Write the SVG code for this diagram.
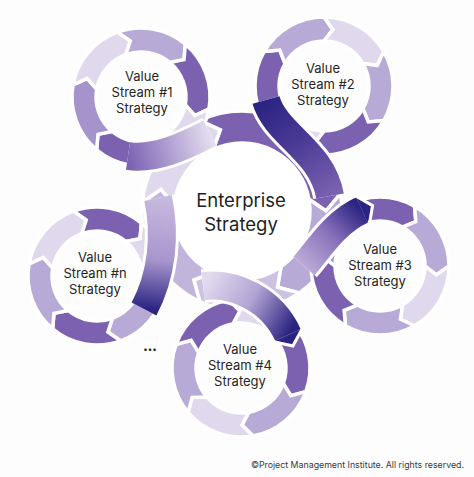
<svg xmlns="http://www.w3.org/2000/svg" xmlns:xlink="http://www.w3.org/1999/xlink" width="474" height="477" viewBox="0 0 474 477">
<style>
.seg{stroke:#fff;stroke-width:3.5;stroke-linejoin:miter}
.d{fill:#7b61b0}.l{fill:#b8aad6}.v{fill:#e0d9ee}.m{fill:#a593cc}
.cs{stroke:#fff;stroke-width:3.5}
.lbl{font-family:Inter,"Noto Sans",sans-serif;font-size:13px;fill:#262626;text-anchor:middle}
.big{font-family:Inter,"Noto Sans",sans-serif;font-size:18.5px;fill:#1e1e1e;text-anchor:middle}
.rw{fill:none;stroke:#fff;stroke-width:34}
.rb{fill:none;stroke-width:28}
.hd{fill:#2b2382}
.he{fill:none;stroke:#fff;stroke-width:3}
</style>
<defs>
<path id="s" class="seg" d="M69,0 A69,69 0 0 1 34.5,59.756 L20.427,53.214 L22.5,38.971 A45,45 0 0 0 45,0 L56.298,8.917 Z"/>
<linearGradient id="g1" gradientUnits="userSpaceOnUse" x1="128" y1="156" x2="210" y2="133"><stop offset="0" stop-color="#7d63b3"/><stop offset="1" stop-color="#e4def0"/></linearGradient>
<linearGradient id="g2" gradientUnits="userSpaceOnUse" x1="266" y1="100" x2="330" y2="196"><stop offset="0" stop-color="#2b2382"/><stop offset="0.45" stop-color="#4a3a95"/><stop offset="1" stop-color="#7b61b0"/></linearGradient>
<linearGradient id="g3" gradientUnits="userSpaceOnUse" x1="304" y1="266" x2="362" y2="210"><stop offset="0" stop-color="#b9abd7"/><stop offset="0.5" stop-color="#8a72bb"/><stop offset="1" stop-color="#2b2382"/></linearGradient>
<linearGradient id="g4" gradientUnits="userSpaceOnUse" x1="203" y1="286" x2="288" y2="335"><stop offset="0" stop-color="#e1dbee"/><stop offset="0.5" stop-color="#b3a4d3"/><stop offset="1" stop-color="#2b2382"/></linearGradient>
<linearGradient id="g5" gradientUnits="userSpaceOnUse" x1="144" y1="309" x2="158" y2="198"><stop offset="0" stop-color="#2b2382"/><stop offset="0.45" stop-color="#a796cd"/><stop offset="1" stop-color="#c6b9de"/></linearGradient>
</defs>
<rect width="474" height="477" fill="#fdfdfd"/>
<g id="enterprise">
<path class="cs" fill="#7b61b0" d="M199.74,120.37 A100,100 0 0 1 340.48,193.63 L326,211 L308.97,199.19 A68,68 0 0 0 213.26,149.37 L220.26,129.86 Z"/>
<path class="cs" fill="#b8aad6" d="M340.48,193.63 A100,100 0 0 1 299.36,292.92 L277.50,287.13 L281.00,266.70 A68,68 0 0 0 308.97,199.19 L326,211 Z"/>
<path class="cs" fill="#cdc2e3" d="M299.36,292.92 A100,100 0 0 1 199.74,301.63 L193.82,279.81 L213.26,272.63 A68,68 0 0 0 281.00,266.70 L277.50,287.13 Z"/>
<path class="cs" fill="#c2b5dc" d="M199.74,301.63 A100,100 0 0 1 142.38,202.28 L160.86,189.26 L174.26,205.07 A68,68 0 0 0 213.26,272.63 L193.82,279.81 Z"/>
<path class="cs" fill="#e0d9ee" d="M142.38,202.28 A100,100 0 0 1 199.74,120.37 L220.26,129.86 L213.26,149.37 A68,68 0 0 0 174.26,205.07 L160.86,189.26 Z"/>
<circle cx="242" cy="211" r="66" fill="#fff"/>
<text class="big" x="241" y="206.5">Enterprise</text>
<text class="big" x="241" y="230.5">Strategy</text>
</g>
<g id="vs1">
<use href="#s" class="l" transform="translate(141,97) rotate(-110)"/>
<use href="#s" class="d" transform="translate(141,97) rotate(-50)"/>
<use href="#s" class="v" transform="translate(141,97) rotate(10)"/>
<use href="#s" class="d" transform="translate(141,97) rotate(70)"/>
<use href="#s" class="m" transform="translate(141,97) rotate(130)"/>
<use href="#s" class="v" transform="translate(141,97) rotate(190)"/>
<text class="lbl" x="142" y="80.5">Value</text>
<text class="lbl" x="142" y="96.5">Stream #1</text>
<text class="lbl" x="142" y="112.5">Strategy</text>
</g>
<g id="vs2">
<use href="#s" class="d" transform="translate(324,86) rotate(150)"/>
<use href="#s" class="l" transform="translate(324,86) rotate(210)"/>
<use href="#s" class="v" transform="translate(324,86) rotate(270)"/>
<use href="#s" class="l" transform="translate(324,86) rotate(330)"/>
<use href="#s" class="d" transform="translate(324,86) rotate(30)"/>
<use href="#s" class="v" transform="translate(324,86) rotate(90)"/>
<text class="lbl" x="323" y="72.5">Value</text>
<text class="lbl" x="323" y="88.5">Stream #2</text>
<text class="lbl" x="323" y="104.5">Strategy</text>
</g>
<g id="vs3">
<use href="#s" class="d" transform="translate(380,266) rotate(240)"/>
<use href="#s" class="l" transform="translate(380,266) rotate(300)"/>
<use href="#s" class="v" transform="translate(380,266) rotate(0)"/>
<use href="#s" class="l" transform="translate(380,266) rotate(60)"/>
<use href="#s" class="d" transform="translate(380,266) rotate(120)"/>
<use href="#s" class="m" transform="translate(380,266) rotate(180)"/>
<text class="lbl" x="380" y="253.5">Value</text>
<text class="lbl" x="380" y="269.5">Stream #3</text>
<text class="lbl" x="380" y="285.5">Strategy</text>
</g>
<g id="vs4">
<use href="#s" class="d" transform="translate(241,368) rotate(-40)"/>
<use href="#s" class="l" transform="translate(241,368) rotate(20)"/>
<use href="#s" class="v" transform="translate(241,368) rotate(80)"/>
<use href="#s" class="l" transform="translate(241,368) rotate(140)"/>
<use href="#s" class="d" transform="translate(241,368) rotate(200)"/>
<use href="#s" class="v" transform="translate(241,368) rotate(260)"/>
<text class="lbl" x="240" y="353.5">Value</text>
<text class="lbl" x="240" y="369.5">Stream #4</text>
<text class="lbl" x="240" y="385.5">Strategy</text>
</g>
<g id="vsn">
<use href="#s" class="d" transform="translate(97,276) rotate(250)"/>
<use href="#s" class="v" transform="translate(97,276) rotate(310)"/>
<use href="#s" class="l" transform="translate(97,276) rotate(10)"/>
<use href="#s" class="d" transform="translate(97,276) rotate(70)"/>
<use href="#s" class="l" transform="translate(97,276) rotate(130)"/>
<use href="#s" class="v" transform="translate(97,276) rotate(190)"/>
<text class="lbl" x="95" y="261.5">Value</text>
<text class="lbl" x="95" y="277.5">Stream #n</text>
<text class="lbl" x="95" y="293.5">Strategy</text>
</g>
<g id="connectors">
<path class="rw" d="M128,156 C155,160 185,146 210,133"/>
<path class="rb" stroke="url(#g1)" d="M128,156 C155,160 185,146 210,133"/>
<path class="rw" d="M266,100 C276,135 322,150 330,196"/>
<path class="rb" stroke="url(#g2)" d="M266,100 C276,135 322,150 330,196"/>
<path class="rw" d="M304,266 C318,250 335,222 362,210"/>
<path class="rb" stroke="url(#g3)" d="M304,266 C318,250 335,222 362,210"/>
<polygon class="hd" points="367.7,222.8 371.1,205.9 356.3,197.2"/>
<polyline class="he" points="369.5,224.5 372.6,205.6 354.8,195.5"/>
<path class="rw" d="M203,286 C235,282 272,300 288,335"/>
<path class="rb" stroke="url(#g4)" d="M203,286 C235,282 272,300 288,335"/>
<polygon class="hd" points="300.7,329.2 292.2,344.1 275.3,340.8"/>
<polyline class="he" points="302.5,328.2 292.9,346 273.5,341.8"/>
<path class="rw" d="M144,309 C162,275 166,235 158,198"/>
<path class="rb" stroke="url(#g5)" d="M144,309 C162,275 166,235 158,198"/>
</g>
<text x="150" y="352" font-family="Inter,'Noto Sans',sans-serif" font-size="8" fill="#222" text-anchor="middle">•••</text>
<text x="464" y="468" font-family="Inter,'Noto Sans',sans-serif" font-size="8.8" fill="#3a3a3a" text-anchor="end">©Project Management Institute. All rights reserved.</text>
</svg>
